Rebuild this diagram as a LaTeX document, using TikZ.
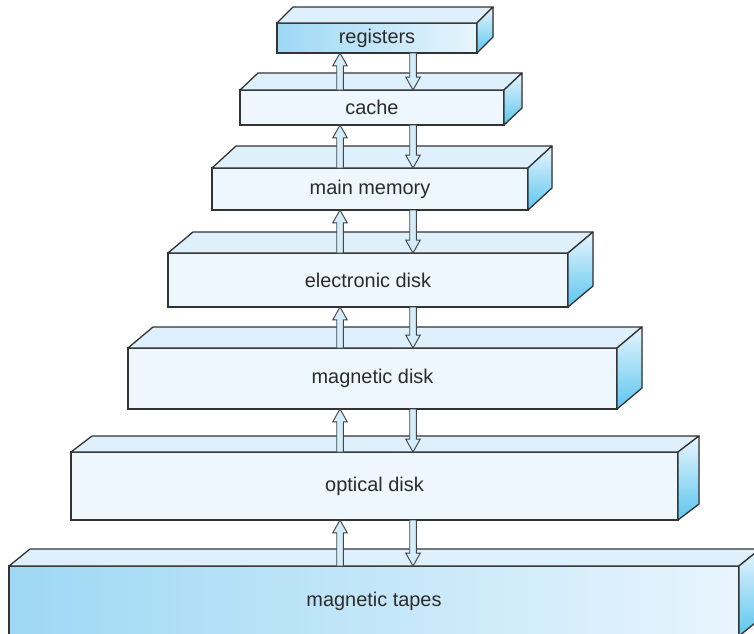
\documentclass[tikz,border=0pt]{standalone}
\usepackage{fontspec}
\setmainfont{Liberation Sans}
\usetikzlibrary{calc}

\definecolor{faceblue}{HTML}{EEF7FD}
\definecolor{topblue}{HTML}{DDF0FB}
\definecolor{paleblue}{HTML}{E8F5FD}
\definecolor{sideblue}{HTML}{5CC6EF}
\definecolor{deepblue}{HTML}{9ED8F4}
\definecolor{edgegray}{HTML}{333333}
\definecolor{labelgray}{HTML}{2B2B2B}
\definecolor{arrowblue}{HTML}{D3EDFA}
\definecolor{arrowgray}{HTML}{444444}

\begin{document}
\begin{tikzpicture}[x=0.03cm,y=-0.03cm,
	frontface/.style={draw=edgegray, line width=1.1pt, fill=faceblue, inner sep=0pt, outer sep=0pt, text=labelgray, font=\fontsize{17}{20}\selectfont},
	keyface/.style={frontface, left color=deepblue, right color=paleblue},
	topface/.style={draw=edgegray, line width=1.1pt, line join=round, fill=topblue},
	sideface/.style={draw=edgegray, line width=1.1pt, line join=round, top color=paleblue, bottom color=sideblue},
	flow/.style={draw=arrowgray, line width=0.8pt, fill=arrowblue}]

\useasboundingbox (0,0) rectangle (754,633);
\clip (0,0) rectangle (754,633);

% A memory level as a box: name, face style, left, top, right, bottom, depth x, depth y, label
\newcommand{\membox}[9]{%
	\node[#2, minimum width={(#5-#3)*0.03cm}, minimum height={(#6-#4)*0.03cm}] (#1) at ({(#3+#5)/2},{(#4+#6)/2}) {#9};
	\filldraw[topface] (#1.north west) -- ++(#7,-#8) -- ($(#1.north east)+(#7,-#8)$) -- (#1.north east) -- cycle;
	\filldraw[sideface] (#1.north east) -- ++(#7,-#8) -- ($(#1.south east)+(#7,-#8)$) -- (#1.south east) -- cycle;
}

% A hollow block arrow from (#1) to (#2), vertical
\newcommand{\flowarrow}[2]{%
	\filldraw[flow] let \p1=(#1), \p2=(#2), \n1={\y2-sign(\y2-\y1)*11pt} in
		(\x1-2.8pt,\y1) -- (\x1-2.8pt,{\n1*1pt}) -- (\x1-6.2pt,{\n1*1pt}) -- (\x2,\y2)
		-- (\x1+6.2pt,{\n1*1pt}) -- (\x1+2.8pt,{\n1*1pt}) -- (\x1+2.8pt,\y1) -- cycle;
}

\membox{registers}{keyface}{277}{23}{477}{53}{16}{16}{registers}
\membox{cache}{frontface}{240}{90}{504}{125}{18}{17}{cache}
\membox{mainmem}{frontface}{212}{168}{528}{210}{24}{22}{main memory}
\membox{edisk}{frontface}{168}{253}{568}{307}{25}{21}{electronic disk}
\membox{mdisk}{frontface}{128}{348}{617}{409}{25}{21}{magnetic disk}
\membox{odisk}{frontface}{71}{452}{678}{520}{21}{16}{optical disk}
\membox{tapes}{keyface}{9}{566}{739}{636}{21}{17}{magnetic tapes}

\coordinate (upline) at (340,0);
\coordinate (downline) at (413,0);

\foreach \upper/\lower in {registers/cache, cache/mainmem, mainmem/edisk, edisk/mdisk, mdisk/odisk, odisk/tapes}{
	\flowarrow{\lower.north -| upline}{\upper.south -| upline}
	\flowarrow{\upper.south -| downline}{\lower.north -| downline}
}
\end{tikzpicture}
\end{document}
